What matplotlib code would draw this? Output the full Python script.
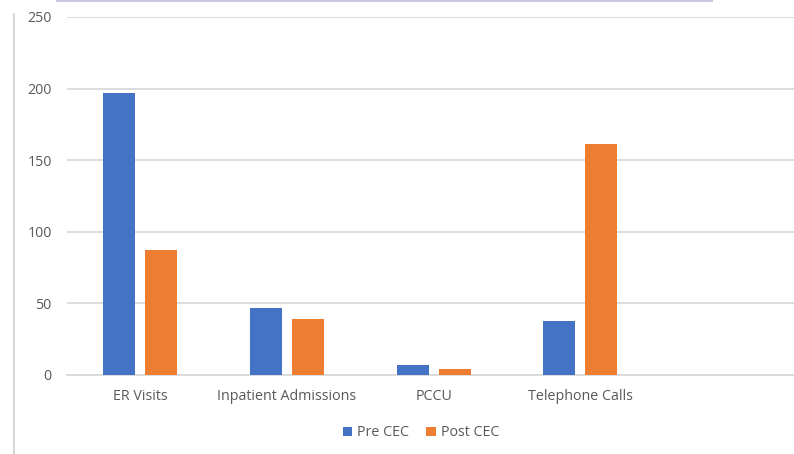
import numpy as np
import matplotlib
matplotlib.use("Agg")
import matplotlib.pyplot as plt
from matplotlib.lines import Line2D

categories = ["ER Visits", "Inpatient Admissions", "PCCU", "Telephone Calls"]
pre_cec = [197, 47, 7, 38]
post_cec = [87, 39, 4, 161]
series_names = ["Pre CEC", "Post CEC"]
y_ticks = [0, 50, 100, 150, 200, 250]

BLUE = "#4472C4"
ORANGE = "#ED7D31"
GRID = "#D9D9D9"
TEXT = "#595959"

plt.rcParams["font.family"] = ["Open Sans", "DejaVu Sans"]

fig = plt.figure(figsize=(7.94, 4.54), dpi=100)
ax = fig.add_axes([67 / 794, 1 - 375 / 454, 733.5 / 794, 358 / 454])

x = np.arange(len(categories))
bar_w = 0.218
offset = (bar_w + 0.068) / 2
ax.bar(x - offset, pre_cec, bar_w, color=BLUE, label=series_names[0], zorder=3)
ax.bar(x + offset, post_cec, bar_w, color=ORANGE, label=series_names[1], zorder=3)

ax.set_xlim(-0.5, 4.5)
ax.set_ylim(0, 250)
ax.set_yticks(y_ticks)
ax.set_xticks(x)
ax.set_xticklabels(categories)
ax.yaxis.grid(True, color=GRID, linewidth=1.3, zorder=0)
ax.tick_params(axis="both", length=0, labelsize=10.3, colors=TEXT)
ax.tick_params(axis="x", pad=10)
ax.tick_params(axis="y", pad=11)
for side in ["top", "right", "left"]:
    ax.spines[side].set_visible(False)
ax.spines["bottom"].set_color(GRID)
ax.spines["bottom"].set_linewidth(1.3)

leg = fig.legend(loc="center", bbox_to_anchor=(421 / 794, 1 - 433 / 454), ncol=2,
                 frameon=False, fontsize=10.3, handlelength=0.65, handleheight=0.65,
                 handletextpad=0.35, columnspacing=1.2)
for t in leg.get_texts():
    t.set_color(TEXT)

# screenshot border artefacts
fig.add_artist(Line2D([14 / 794, 14 / 794], [0, 1 - 14 / 454], color="#D0D0D0", linewidth=1.2))
fig.add_artist(Line2D([57 / 794, 712 / 794], [0.998, 0.998], color="#C8C8E0", linewidth=1.5))

fig.savefig("out.png", dpi=100)
